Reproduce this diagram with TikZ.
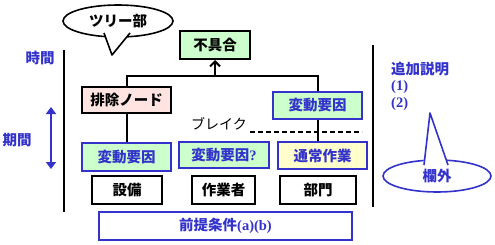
\documentclass[tikz,border=0pt]{standalone}
\usepackage{fontspec}
\setmainfont{Noto Sans CJK JP}
\newfontfamily\latinserif{Liberation Serif}
\usepackage{tikz}
\usetikzlibrary{arrows.meta,positioning,shapes.geometric}
\definecolor{navy}{HTML}{3333CC}
\definecolor{mint}{HTML}{CCFFCC}
\definecolor{rose}{HTML}{FFE4E1}
\definecolor{cream}{HTML}{FFFFCC}

\begin{document}
\begin{tikzpicture}[x=1pt,y=-1pt,
  box/.style={rectangle,draw=black,line width=2pt,fill=white,inner sep=0pt,
    minimum width=#1,minimum height=28pt,font=\fontsize{14.5}{16}\selectfont\bfseries},
  box/.default=70pt,
  cause/.style={rectangle,draw=navy,line width=2.6pt,fill=mint,inner sep=0pt,
    minimum width=89pt,minimum height=27pt,text=navy,font=\fontsize{14.5}{16}\selectfont\bfseries},
  label/.style={inner sep=0pt,font=\fontsize{14.5}{16}\selectfont\bfseries},
  bubble/.style={ellipse,draw,line width=1.6pt,fill=white,inner sep=0pt,
    minimum width=110pt,minimum height=32pt,font=\fontsize{14.5}{16}\selectfont\bfseries},
  tree/.style={line width=2pt}]
  \useasboundingbox (0,0) rectangle (495,244);

  % callout of the tree part
  \node[bubble] (treeCall) at (118,21) {ツリー部};
  \fill[white] (104,32) -- (112,55) -- (131,32) -- cycle;
  \draw[line width=1.6pt,line join=round] (104,33) -- (112,55) -- (130,33);

  % time axis
  \node[label,text=navy] (jikan) at (40,58) {時間};
  \node[label,text=navy] (kikan) at (17,140) {期間};
  \coordinate (tUp) at (51,107);
  \coordinate (tDn) at (51,169);
  \draw[navy,line width=1.5pt,{Triangle[width=10pt,length=7pt]}-{Triangle[width=10pt,length=7pt]}] (tUp) -- (tDn);
  \draw[line width=2pt] (64,50) -- (64,212);
  \draw[line width=2pt] (373,45) -- (373,207);

  % fault tree
  \node[box,fill=mint] (fuguai) at (215,45) {不具合};
  \node[box=89pt,minimum height=26pt,fill=rose] (haijo) at (126.5,100) {排除ノード};
  \node[cause] (hendoR) at (317.5,105.5) {変動要因};
  \coordinate (bar) at (215,76);
  \draw[tree] (haijo.north) |- (bar) -| (hendoR.north);
  \draw[tree,-{Straight Barb[length=5pt,width=10pt]}] (bar) -- (fuguai.south);

  \node[cause,minimum height=28pt] (hendoL) at (126.5,157) {変動要因};
  \node[cause,minimum width=90pt,minimum height=26pt] (hendoM) at (224,155) {変動要因{\latinserif ?}};
  \node[cause,fill=cream,line width=1.2pt] (tsujo) at (322.5,155.5) {通常作業};
  \draw[tree] (haijo.south) -- (hendoL.north);
  \draw[tree] (hendoR.south) -- (hendoR.south |- tsujo.north);

  % break line
  \node[label,font=\fontsize{14}{16}\selectfont] (break) at (219,124) {ブレイク};
  \coordinate (brkL) at (250,132);
  \coordinate (brkR) at (362,132);
  \draw[line width=2pt,dash pattern=on 5pt off 3pt] (brkL) -- (brkR);

  % owners
  \node[box] (setsubi) at (127,190) {設備};
  \node[box=63pt] (sagyo) at (223.5,190) {作業者};
  \node[box=76pt] (bumon) at (318,190) {部門};

  \node[box=253pt,draw=navy,line width=2.6pt,text=navy] (zentei) at (225.5,226) {前提条件{\latinserif (a)(b)}};

  % margin notes
  \node[label,text=navy,anchor=west] (tsuika) at (391,69.5) {追加説明};
  \node[label,text=navy,anchor=west,font=\fontsize{14.5}{16}\selectfont\latinserif\bfseries] (note1) at (391,87) {(1)};
  \node[label,text=navy,anchor=west,font=\fontsize{14.5}{16}\selectfont\latinserif\bfseries] (note2) at (391,104) {(2)};
  \node[bubble,draw=navy,text=navy,minimum width=108pt] (margin) at (437,176) {欄外};
  \fill[white] (423,166) -- (430,113) -- (449,166) -- cycle;
  \draw[navy,line width=1.6pt,line join=round] (424,165) -- (430,113) -- (448,165);
\end{tikzpicture}
\end{document}
